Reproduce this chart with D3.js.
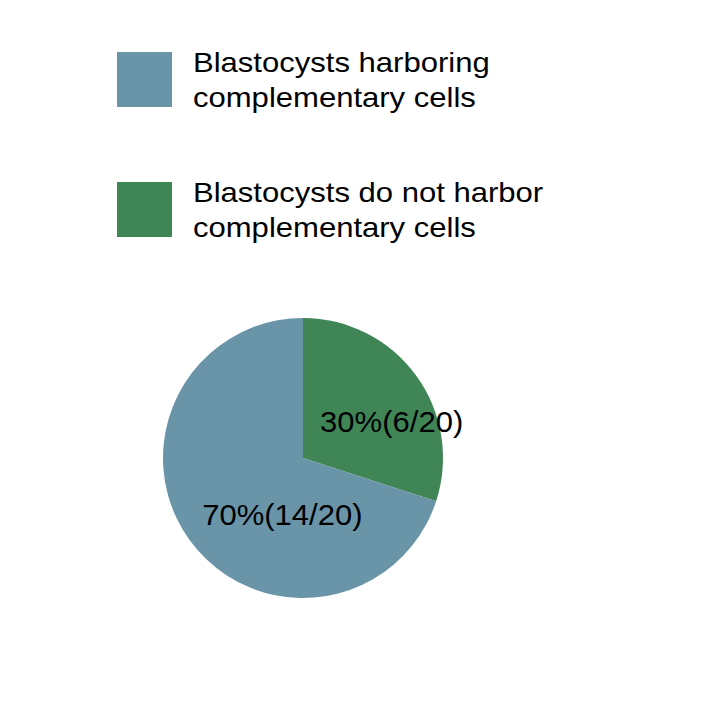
<!DOCTYPE html>
<html>
<head>
<meta charset="utf-8">
<script src="https://cdn.jsdelivr.net/npm/d3@7"></script>
<style>
  html, body { margin: 0; padding: 0; background: #fff; }
  svg { display: block; }
  text { font-family: "Liberation Sans", Arial, sans-serif; fill: #000; }
</style>
</head>
<body>
<div id="chart"></div>
<script>
// data
const categories = ['Blastocysts do not harbor complementary cells', 'Blastocysts harboring complementary cells'];
const counts = [6, 14];
const total = 20;
const legendOrder = [1, 0];
const legendLines = [
  ['Blastocysts harboring', 'complementary cells'],
  ['Blastocysts do not harbor', 'complementary cells']
];

const W = 706, H = 708;
const colors = ['#3f8556', '#6a95a8'];
const cx = 303, cy = 458, radius = 140;
// label placement (Excel-like, not exactly at centroid)
const labelShift = [[32, 15], [36, 26]];

const svg = d3.select('#chart').append('svg').attr('width', W).attr('height', H);

// Legend
const legend = svg.append('g').attr('transform', 'translate(117,52)');
legendOrder.forEach((idx, i) => {
  const row = legend.append('g').attr('transform', `translate(0,${i * 130})`);
  row.append('rect')
    .attr('width', 55).attr('height', 55)
    .attr('fill', colors[idx]);
  legendLines[i].forEach((line, j) => {
    row.append('text')
      .attr('transform', `translate(76,${20 + j * 35}) scale(1.15,1)`)
      .attr('font-size', '27px')
      .text(line);
  });
});

// Pie
const pie = d3.pie().sort(null).value(d => d);
const arc = d3.arc().innerRadius(0).outerRadius(radius);
const arcs = pie(counts);

const g = svg.append('g').attr('transform', `translate(${cx},${cy})`);
g.selectAll('path')
  .data(arcs)
  .join('path')
  .attr('d', arc)
  .attr('fill', (d, i) => colors[i]);

g.selectAll('text.lbl')
  .data(arcs)
  .join('text')
  .attr('class', 'lbl')
  .attr('font-size', '30px')
  .attr('text-anchor', 'middle')
  .attr('transform', (d, i) => {
    const c = arc.centroid(d);
    return `translate(${c[0] + labelShift[i][0]},${c[1] + labelShift[i][1]}) scale(1.035,1)`;
  })
  .text(d => `${Math.round(d.data / total * 100)}%(${d.data}/${total})`);
</script>
</body>
</html>
